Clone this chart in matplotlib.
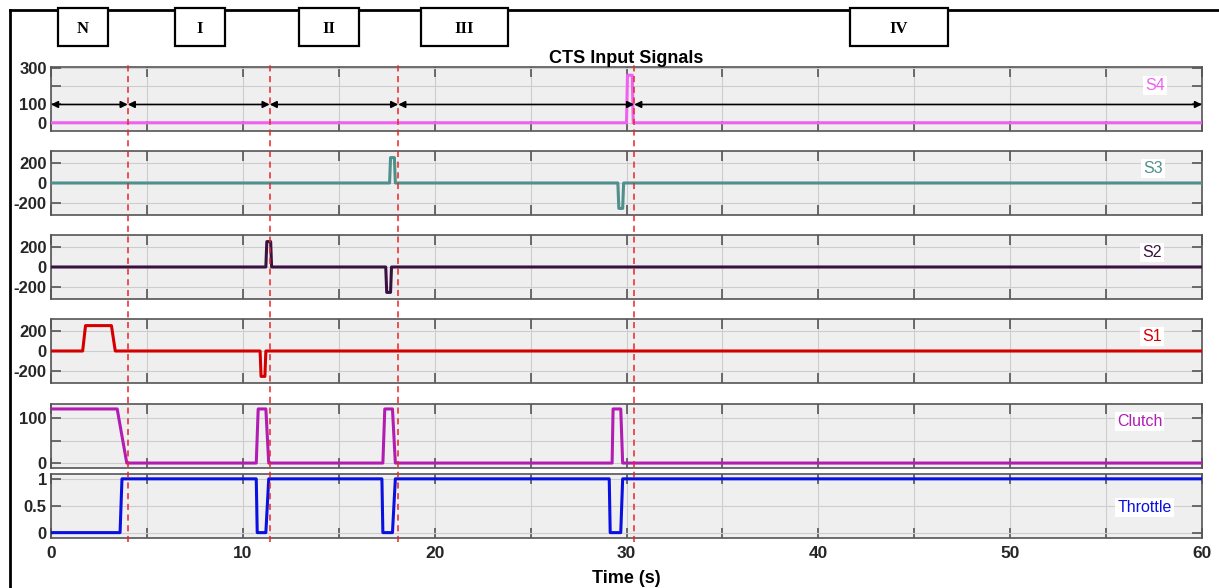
"""
CTS input signals - shift sequence N -> I -> II -> III -> IV
"""
import numpy as np
import matplotlib.pyplot as plt
from matplotlib.patches import Rectangle
from matplotlib.lines import Line2D

plt.rcParams['font.family'] = ['Liberation Sans', 'DejaVu Sans']

# ── data ──────────────────────────────────────────────────────
s4_t = [0, 30.0, 30.05, 30.3, 30.35, 60]
s4_v = [0, 0, 260, 260, 0, 0]

s3_t = [0, 17.65, 17.7, 17.9, 17.95, 29.55, 29.6, 29.8, 29.85, 60]
s3_v = [0, 0, 250, 250, 0, 0, -250, -250, 0, 0]

s2_t = [0, 11.2, 11.25, 11.45, 11.5, 17.45, 17.5, 17.7, 17.75, 60]
s2_v = [0, 0, 250, 250, 0, 0, -250, -250, 0, 0]

s1_t = [0, 1.65, 1.8, 3.15, 3.35, 10.9, 10.95, 11.15, 11.2, 60]
s1_v = [0, 0, 250, 250, 0, 0, -250, -250, 0, 0]

clutch_t = [0, 3.45, 3.95, 10.7, 10.8, 11.2, 11.35, 17.3, 17.4, 17.8, 17.95,
            29.25, 29.3, 29.7, 29.8, 60]
clutch_v = [120, 120, 0, 0, 120, 120, 0, 0, 120, 120, 0, 0, 120, 120, 0, 0]

throttle_t = [0, 3.6, 3.7, 10.7, 10.75, 11.2, 11.35, 17.25, 17.3, 17.8, 17.95,
              29.1, 29.15, 29.7, 29.8, 60]
throttle_v = [0, 0, 1, 1, 0, 0, 1, 1, 0, 0, 1, 1, 0, 0, 1, 1]

phase_bounds = [0, 4.0, 11.4, 18.1, 30.4, 60]
phase_names = ["N", "I", "II", "III", "IV"]
# box extents in pixels (left, right) for the gear labels on top
phase_boxes = [(58, 108), (175, 225), (299, 359), (421, 508), (850, 948)]

W, H = 1219, 588
fig = plt.figure(figsize=(W / 100, H / 100), dpi=100)

panels = [
    # name, t, v, colour, ylim, yticks, yticklabels, label y (axes frac)
    ("S4", s4_t, s4_v, "#f060f0", (-45, 305), [0, 100, 200, 300], ["0", "100", "", "300"], 0.71),
    ("S3", s3_t, s3_v, "#4f8f8c", (-315, 315), [-200, 0, 200], ["-200", "0", "200"], 0.72),
    ("S2", s2_t, s2_v, "#3a1241", (-315, 315), [-200, 0, 200], ["-200", "0", "200"], 0.72),
    ("S1", s1_t, s1_v, "#d40000", (-315, 315), [-200, 0, 200], ["-200", "0", "200"], 0.72),
    ("Clutch", clutch_t, clutch_v, "#b21cb2", (-11, 131), [0, 50, 100], ["0", "", "100"], 0.72),
    ("Throttle", throttle_t, throttle_v, "#0a10e0", (-0.1, 1.09), [0, 0.5, 1], ["0", "0.5", "1"], 0.48),
]
tops = [67, 151, 235, 319, 404, 474]
x0, x1 = 51, 1202
label_x = [57.55, 57.45, 57.4, 57.4, 56.75, 57.0]

axes = []
for (name, t, v, col, ylim, yt, ytl, ly), top, lx in zip(panels, tops, label_x):
    ax = fig.add_axes([x0 / W, 1 - (top + 64) / H, (x1 - x0) / W, 64 / H])
    ax.set_facecolor("#efefef")
    ax.plot(t, v, color=col, lw=2.2, zorder=3)
    ax.set_xlim(0, 60)
    ax.set_ylim(*ylim)
    ax.set_xticks(np.arange(0, 61, 5))
    ax.set_yticks(yt)
    ax.set_yticklabels(ytl)
    ax.grid(True, color="#cdcdcd", lw=0.8)
    ax.set_axisbelow(True)
    ax.tick_params(direction="in", length=7, width=1.2, color="#555555",
                   top=True, right=True, labelsize=12, labelcolor="#262626", pad=3)
    for lab in ax.get_yticklabels():
        lab.set_fontweight("bold")
    for sp in ax.spines.values():
        sp.set_color("#555555")
        sp.set_linewidth(1.2)
    ax.text(lx, ly, name, transform=ax.get_xaxis_transform(),
            color=col, fontsize=11.5, ha="center", va="center", zorder=5,
            bbox=dict(facecolor="white", edgecolor="none", pad=1.5))
    axes.append(ax)

for ax in axes[:-1]:
    ax.tick_params(labelbottom=False)
axb = axes[-1]
axb.set_xticklabels([str(x) if x % 10 == 0 else "" for x in range(0, 61, 5)])
for lab in axb.get_xticklabels():
    lab.set_fontweight("bold")
axb.tick_params(axis="x", pad=6, labelsize=12.5)
axb.set_xlabel("Time (s)", fontsize=13, fontweight="bold", labelpad=6)

axes[0].set_title("CTS Input Signals", fontsize=13, fontweight="bold", pad=3)

# phase arrows in the S4 panel
for a, b in zip(phase_bounds[:-1], phase_bounds[1:]):
    axes[0].annotate("", xy=(b, 100), xytext=(a, 100),
                     arrowprops=dict(arrowstyle="<|-|>", color="black", lw=1.2,
                                     mutation_scale=10, shrinkA=0, shrinkB=0),
                     zorder=4)

# dashed red phase boundaries spanning all panels
ov = fig.add_axes([x0 / W, 1 - 542 / H, (x1 - x0) / W, (542 - 63) / H])
ov.set_xlim(0, 60)
ov.set_ylim(0, 1)
ov.axis("off")
for b in phase_bounds[1:-1]:
    ov.axvline(b, color="#e8262a", ls=(0, (4, 3)), lw=1.1)

# outer frame
fig.add_artist(Line2D([10 / W, 10 / W], [0, 1 - 10 / H], color="black", lw=2,
                      transform=fig.transFigure))
fig.add_artist(Line2D([10 / W, 1], [1 - 10 / H, 1 - 10 / H], color="black", lw=2,
                      transform=fig.transFigure))

# gear boxes on top
for name, (l, r) in zip(phase_names, phase_boxes):
    fig.add_artist(Rectangle((l / W, 1 - 46 / H), (r - l) / W, 38 / H,
                             transform=fig.transFigure, facecolor="white",
                             edgecolor="black", lw=1.6, zorder=5))
    fig.text((l + r) / 2 / W, 1 - 29 / H, name, family="Liberation Serif",
             fontweight="bold", fontsize=12, ha="center", va="center", zorder=6)

fig.savefig("out.png", dpi=100)
